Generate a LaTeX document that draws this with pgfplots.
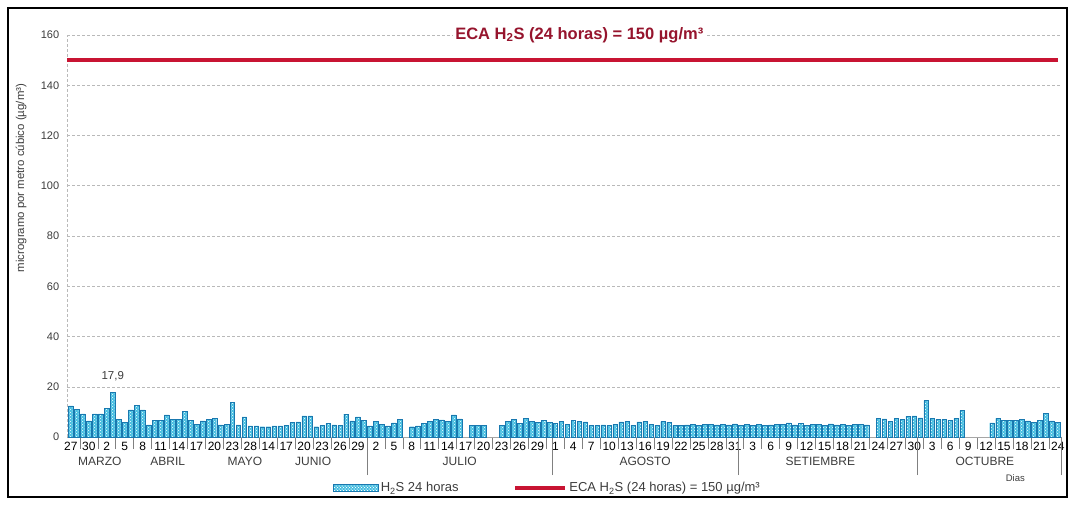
\documentclass[border=0pt]{standalone}
\usepackage{fontspec}
\setmainfont{Liberation Sans}
\usepackage{pgfplots}
\pgfplotsset{compat=1.18}
\usetikzlibrary{patterns}

\definecolor{barfill}{RGB}{70,190,225}
\definecolor{baredge}{RGB}{25,120,175}
\definecolor{ecared}{RGB}{200,20,50}
\definecolor{ecatext}{RGB}{150,20,45}
\definecolor{gridgray}{RGB}{185,185,185}
\definecolor{labelgray}{RGB}{60,60,60}

\begin{document}
\begin{tikzpicture}
% page frame
\path[use as bounding box] (-67pt,-67pt) rectangle (1005pt,437pt);
\draw[line width=1.2pt] (-59pt,-60pt) rectangle (1000pt,429pt);

\begin{axis}[
  at={(0,0)}, anchor=south west,
  scale only axis, width=995pt, height=402pt,
  clip=false,
  xmin=-0.65, xmax=165.7, ymin=0, ymax=160,
  ytick={0,20,...,160},
  ymajorgrids, grid style={gridgray, densely dashed, line width=0.5pt},
  axis x line*=bottom, axis y line*=left,
  x axis line style={gray!70, -},
  y axis line style={gridgray, densely dashed, -},
  xtick={0,3,...,165},
  xticklabels={27,30,2,5,8,11,14,17,20,23,28,14,17,20,23,26,29,2,5,8,11,14,17,20,23,26,29,1,4,7,10,13,16,19,22,25,28,31,3,6,9,12,15,18,21,24,27,30,3,6,9,12,15,18,21,24},
  major x tick style={draw=none},
  minor xtick={1.5,4.5,...,163.5},
  minor x tick style={draw=gray, line width=0.6pt},
  minor tick length=12pt,
  tick align=outside,
  extra x ticks={49.5,80.5,111.5,141.5,165.5},
  extra x tick labels={},
  extra x tick style={major tick length=38pt, major x tick style={draw=gray, line width=0.6pt}},
  y tick style={draw=none},
  /pgf/number format/assume math mode=true,
  xticklabel style={font=\fontsize{12}{12}\selectfont, text=black, inner sep=1pt},
  yticklabel style={font=\fontsize{11}{12}\selectfont, text=labelgray},
  legend style={at={(0.483,0)}, anchor=center, yshift=-51pt, draw=none, fill=none,
    font=\fontsize{13}{14}\selectfont, text=labelgray, legend columns=2,
    /tikz/every even column/.append style={column sep=53pt}},
]
% daily H2S concentrations (ug/m3)
\addplot[ybar, bar width=4.6pt, bar shift=0pt, fill=barfill, draw=baredge, line width=0.4pt,
  postaction={pattern=crosshatch dots, pattern color=white},
  legend image code/.code={\filldraw[fill=barfill, draw=baredge, line width=0.4pt,
    postaction={pattern=crosshatch dots, pattern color=white}] (0pt,-3.5pt) rectangle (45pt,3.5pt);}]
coordinates {
(0,12.4) (1,11.0) (2,9.2) (3,6.4) (4,9.2) (5,9.2) (6,11.3) (7,17.9) (8,7.0) (9,5.7)
(10,10.8) (11,12.7) (12,10.8) (13,4.8) (14,6.5) (15,6.5) (16,8.8) (17,7.0) (18,7.0) (19,10.2)
(20,6.7) (21,5.0) (22,6.4) (23,7.0) (24,7.4) (25,4.8) (26,5.0) (27,13.7) (28,4.8) (29,8.0)
(30,4.4) (31,4.4) (32,4.1) (33,4.1) (34,4.4) (35,4.4) (36,4.6) (37,5.7) (38,6.0) (39,8.4)
(40,8.4) (41,4.1) (42,4.6) (43,5.3) (44,4.8) (45,4.6) (46,9.1) (47,6.4) (48,8.0) (49,6.7)
(50,4.4) (51,6.1) (52,5.0) (53,4.4) (54,5.6) (55,7.0)
(57,4.1) (58,4.4) (59,5.4) (60,6.1) (61,7.0) (62,6.8) (63,6.1) (64,8.8) (65,7.2)
(67,4.5) (68,4.5) (69,4.5)
(72,4.6) (73,6.2) (74,7.0) (75,5.5) (76,7.5) (77,6.2) (78,5.8) (79,6.6)
(80,5.8) (81,5.5) (82,6.3) (83,5.0) (84,6.5) (85,6.2) (86,6.0) (87,4.6) (88,4.5) (89,4.8)
(90,4.6) (91,5.0) (92,6.0) (93,6.1) (94,4.7) (95,6.0) (96,6.2) (97,4.9) (98,4.7) (99,6.1)
(100,5.8) (101,4.6) (102,4.5) (103,4.8) (104,5.0) (105,4.7) (106,4.9) (107,5.1) (108,4.8) (109,5.0)
(110,4.8) (111,5.2) (112,4.6) (113,4.9) (114,4.7) (115,5.0) (116,4.6) (117,4.8) (118,4.9) (119,5.0)
(120,5.6) (121,4.8) (122,5.3) (123,4.7) (124,5.0) (125,4.9) (126,4.6) (127,5.2) (128,4.8) (129,5.0)
(130,4.7) (131,4.9) (132,5.1) (133,4.8) (135,7.4) (136,7.2) (137,6.3) (138,7.5) (139,7.0)
(140,8.2) (141,8.4) (142,7.6) (143,14.5) (144,7.5) (145,7.0) (146,7.0) (147,6.6) (148,7.4) (149,10.5)
(154,5.6) (155,7.4) (156,6.6) (157,6.6) (158,6.6) (159,7.0)
(160,6.4) (161,5.8) (162,6.6) (163,9.3) (164,6.4) (165,5.7)
};
\addlegendentry{H\textsubscript{2}S 24 horas}

% 24-hour standard
\addplot[ecared, line width=3.8pt,
  legend image code/.code={\draw[ecared, line width=3.8pt] (0pt,0pt) -- (50pt,0pt);}]
coordinates {(-0.65,150) (165.05,150)};
\addlegendentry{ECA H\textsubscript{2}S (24 horas) = 150 µg/m³}

\node[font=\bfseries\fontsize{16.5}{17}\selectfont, text=ecatext, fill=white, inner sep=2pt]
  at (axis cs:85,160) {ECA H\textsubscript{2}S (24 horas) = 150 µg/m³};
\node[font=\fontsize{11.5}{12}\selectfont, text=labelgray, anchor=south, yshift=8pt]
  at (axis cs:7,17.9) {17,9};

% month names
\node[font=\fontsize{12}{13}\selectfont, text=labelgray, yshift=-24pt] at (axis cs:4.85,0) {MARZO};
\node[font=\fontsize{12}{13}\selectfont, text=labelgray, yshift=-24pt] at (axis cs:16.2,0) {ABRIL};
\node[font=\fontsize{12}{13}\selectfont, text=labelgray, yshift=-24pt] at (axis cs:29.1,0) {MAYO};
\node[font=\fontsize{12}{13}\selectfont, text=labelgray, yshift=-24pt] at (axis cs:40.5,0) {JUNIO};
\node[font=\fontsize{12}{13}\selectfont, text=labelgray, yshift=-24pt] at (axis cs:65,0) {JULIO};
\node[font=\fontsize{12}{13}\selectfont, text=labelgray, yshift=-24pt] at (axis cs:96,0) {AGOSTO};
\node[font=\fontsize{12}{13}\selectfont, text=labelgray, yshift=-24pt] at (axis cs:125.3,0) {SETIEMBRE};
\node[font=\fontsize{12}{13}\selectfont, text=labelgray, yshift=-24pt] at (axis cs:152.8,0) {OCTUBRE};
\node[font=\fontsize{9.5}{10}\selectfont, text=labelgray, yshift=-41pt] at (axis cs:157.9,0) {Dias};
\end{axis}

\node[rotate=90, font=\fontsize{11.4}{12}\selectfont, text=labelgray] at (-46pt,259pt)
  {microgramo por metro cúbico (µg/m³)};
\end{tikzpicture}
\end{document}
